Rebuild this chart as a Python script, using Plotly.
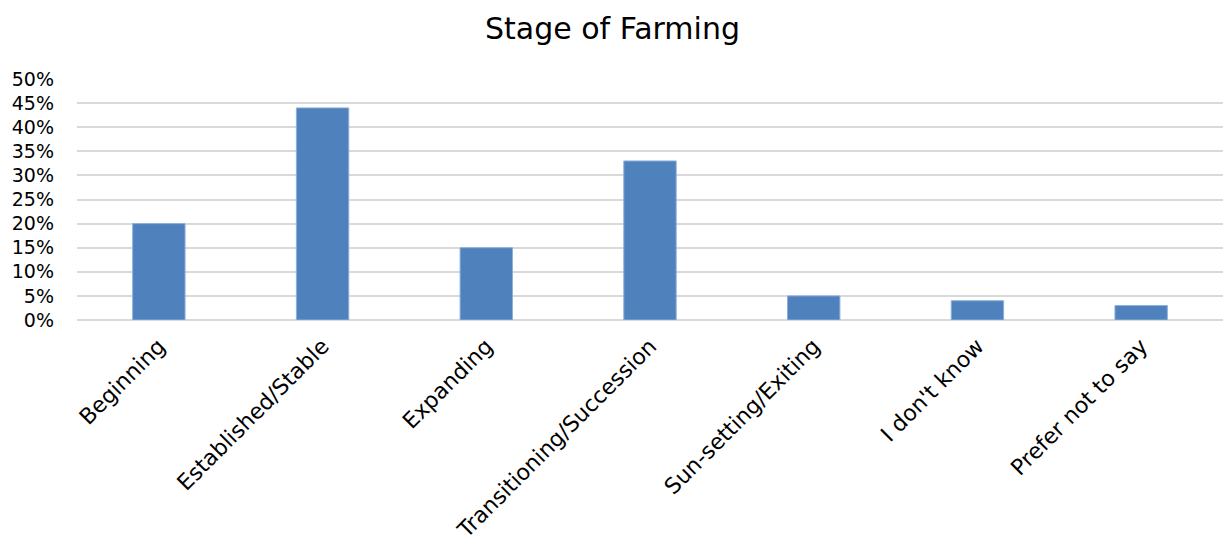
import plotly.graph_objects as go

categories = ["Beginning", "Established/Stable", "Expanding", "Transitioning/Succession",
              "Sun-setting/Exiting", "I don't know", "Prefer not to say"]
values = [0.20, 0.44, 0.15, 0.33, 0.05, 0.04, 0.03]
tick_vals = [0, 0.05, 0.10, 0.15, 0.20, 0.25, 0.30, 0.35, 0.40, 0.45, 0.50]
tick_text = ["0%", "5%", "10%", "15%", "20%", "25%", "30%", "35%", "40%", "45%", "50%"]

font_family = "DejaVu Sans, sans-serif"

fig = go.Figure(go.Bar(
    x=categories, y=values,
    marker=dict(color="#4F81BD", line=dict(color="#8DB0DA", width=1)),
))

fig.update_layout(
    width=1225, height=548,
    margin=dict(l=77, r=2, t=79, b=228),
    paper_bgcolor="white", plot_bgcolor="white",
    bargap=0.68,
    showlegend=False,
    title=dict(text="Stage of Farming", x=0.5, xanchor="center", y=0.948, yanchor="middle",
               font=dict(family=font_family, size=30, color="#000000")),
    font=dict(family=font_family, color="#000000"),
)
fig.update_yaxes(
    range=[0, 0.5], tickvals=tick_vals, ticktext=tick_text,
    showgrid=True, gridcolor="#D9D9D9", gridwidth=1.5,
    zeroline=True, zerolinecolor="#D9D9D9", zerolinewidth=1.5,
    tickfont=dict(size=19, family=font_family, color="#000000"),
    ticklabelstandoff=22, showline=False, fixedrange=True, automargin=False,
)
fig.update_xaxes(
    tickangle=-45, tickfont=dict(size=22, family=font_family, color="#000000"),
    showline=False, showgrid=False, ticks="", fixedrange=True,
    ticklabelstandoff=8, automargin=False,
)

fig.write_html("out.html")
